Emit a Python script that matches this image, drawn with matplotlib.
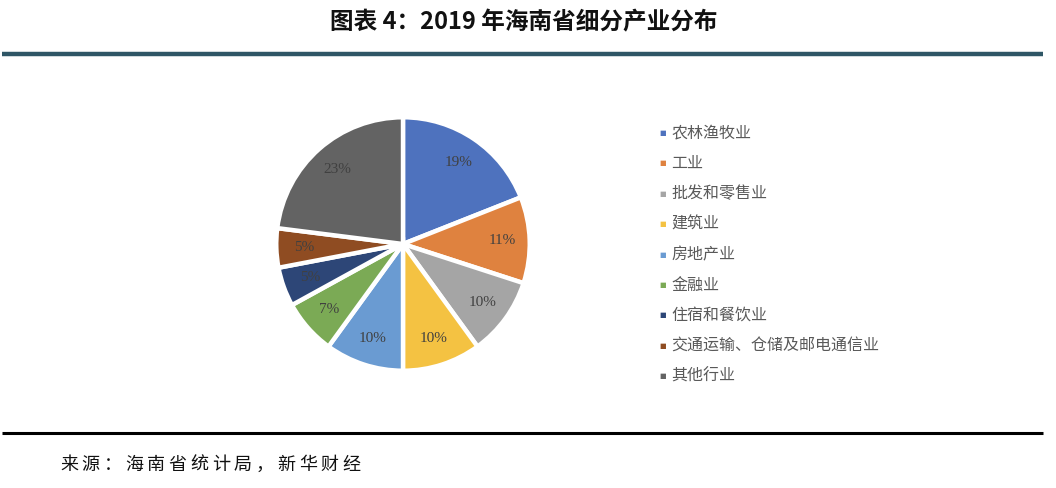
import matplotlib
matplotlib.use("Agg")
import matplotlib.pyplot as plt
from matplotlib.lines import Line2D

plt.rcParams['font.family'] = ['Noto Sans CJK SC', 'DejaVu Sans']

categories = ["农林渔牧业", "工业", "批发和零售业", "建筑业", "房地产业", "金融业",
              "住宿和餐饮业", "交通运输、仓储及邮电通信业", "其他行业"]
values = [19, 11, 10, 10, 10, 7, 5, 5, 23]
colors = ["#4E72BE", "#DF823F", "#A5A5A5", "#F4C242", "#6A9BD2", "#7BAA55",
          "#2D4677", "#8F4C22", "#636363"]
title = "图表 4：2019 年海南省细分产业分布"
source = "来源：海南省统计局，新华财经"

W, H = 1056, 488
fig = plt.figure(figsize=(W / 100, H / 100), dpi=100)

# title
fig.text(524 / W, 1 - 22 / H, title, ha='center', va='center', fontsize=17,
         fontweight='bold', color='#111111')
# top rule
fig.add_artist(Line2D([2 / W, 1043 / W], [1 - 54 / H, 1 - 54 / H], color='#2F5666', lw=3.2,
                      solid_capstyle='butt'))
# bottom rule
fig.add_artist(Line2D([2 / W, 1043 / W], [1 - 433 / H, 1 - 433 / H], color='#000000', lw=2.2,
                      solid_capstyle='butt'))
# source (wide character pitch, like a full-width serif font)
pitch = 21.7
for i, ch in enumerate(source):
    fig.text((60 + i * pitch) / W, 1 - 465 / H, ch, ha='left', va='center',
             fontsize=13, color='#111111')

# pie
cx, cy, r = 403, 244, 128
ax = fig.add_axes([(cx - r) / W, 1 - (cy + r) / H, 2 * r / W, 2 * r / H])
wedges, texts, autotexts = ax.pie(
    values, colors=colors, startangle=90, counterclock=False,
    autopct=lambda p: f"{p:.0f}%", pctdistance=0.78,
    wedgeprops=dict(edgecolor='white', linewidth=3.2),
    textprops=dict(fontsize=11, color='#404040', family='Liberation Serif'))
ax.set_xlim(-1.01, 1.01)
ax.set_ylim(-1.01, 1.01)
ax.set_aspect('equal')

# legend
lx_marker, lx_text = 663, 671
y0, dy = 133, 30.4
for i, (cat, col) in enumerate(zip(categories, colors)):
    y = y0 + i * dy
    fig.text(lx_marker / W, 1 - y / H, "■", ha='center', va='center', fontsize=5,
             color=col, family='DejaVu Sans')
    fig.text(lx_text / W, 1 - y / H, cat, ha='left', va='center', fontsize=11.5,
             color='#595959')

fig.savefig("out.png", dpi=100)
